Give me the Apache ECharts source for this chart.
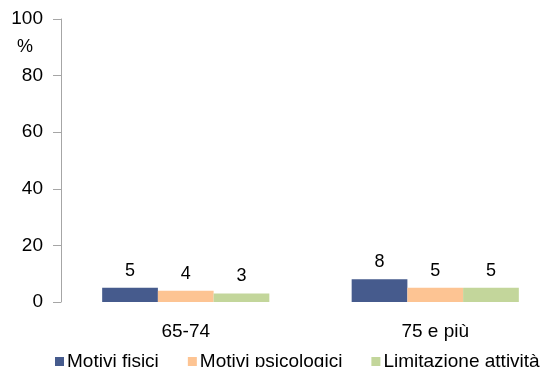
<!DOCTYPE html>
<html>
<head>
<meta charset="utf-8">
<script src="https://cdn.jsdelivr.net/npm/echarts@6/dist/echarts.min.js"></script>
<style>
  html, body { margin: 0; padding: 0; background: #fff; }
  #chart { width: 544px; height: 367px; }
</style>
</head>
<body>
<div id="chart"></div>
<script>
// Age groups and reasons (percent)
const categories = ['65-74', '75 e più'];
const seriesNames = ['Motivi fisici', 'Motivi psicologici', 'Limitazione attività'];
const motiviFisici = [5, 8];
const motiviPsicologici = [4, 5];
const limitazioneAttivita = [3, 5];
const yTicks = [0, 20, 40, 60, 80, 100];

const colors = ['#465B8D', '#FDC493', '#C3D69B'];
const font = 'Liberation Sans, Arial, sans-serif';

const seriesData = [motiviFisici, motiviPsicologici, limitazioneAttivita];

const chart = echarts.init(document.getElementById('chart'), null, { renderer: 'canvas' });
chart.setOption({
  animation: false,
  color: colors,
  // plot area runs a little past the right edge of the canvas
  grid: { left: 61, top: 19, height: 283, width: 499, containLabel: false, outerBoundsMode: 'none' },
  legend: {
    left: 55,
    top: 352,
    padding: 0,
    itemWidth: 9,
    itemHeight: 9,
    itemGap: 29,
    icon: 'rect',
    textStyle: { fontFamily: font, fontSize: 19, color: '#000', padding: [0, 0, 0, -2] },
    data: seriesNames
  },
  xAxis: {
    type: 'category',
    data: categories,
    axisLine: { show: false },
    axisTick: { show: false },
    axisLabel: { fontFamily: font, fontSize: 19, color: '#000', margin: 20 }
  },
  yAxis: {
    type: 'value',
    min: yTicks[0],
    max: yTicks[yTicks.length - 1],
    interval: yTicks[1] - yTicks[0],
    axisLine: { show: true, lineStyle: { color: '#A6A6A6', width: 1 } },
    axisTick: { show: true, length: 8, lineStyle: { color: '#A6A6A6' } },
    splitLine: { show: false },
    axisLabel: { fontFamily: font, fontSize: 19, color: '#000', margin: 18 }
  },
  graphic: [{
    type: 'text',
    left: 17,
    top: 38,
    style: { text: '%', fontFamily: font, fontSize: 18, fill: '#000' }
  }],
  series: seriesNames.map((name, i) => ({
    name: name,
    type: 'bar',
    data: seriesData[i],
    barGap: '0%',
    barCategoryGap: '33%',
    label: {
      show: true,
      position: 'top',
      distance: 8,
      fontFamily: font,
      fontSize: 18,
      color: '#000'
    }
  }))
});
</script>
</body>
</html>
